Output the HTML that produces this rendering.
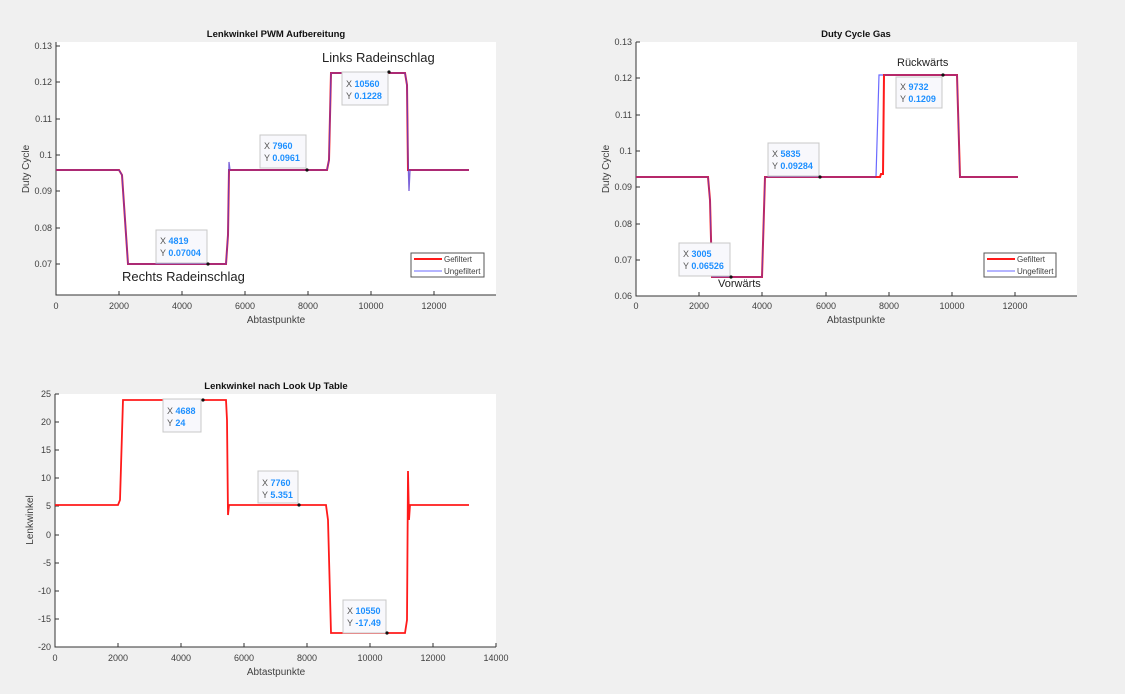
<!DOCTYPE html>
<html><head><meta charset="utf-8"><style>
html,body{margin:0;padding:0;background:#f0f0f0;}
svg{display:block;font-family:"Liberation Sans",sans-serif;}
.t{font-size:9px;fill:#404040;}
.ti{font-size:9.5px;font-weight:bold;fill:#111;}
.lab{font-size:10px;fill:#404040;}
.ann{font-size:13px;fill:#222;}
.tipb{fill:#f8f8fc;stroke:#c8c8c8;stroke-width:1;}
.tx{font-size:9px;fill:#555;}
.tv{font-size:9px;fill:#1e90ff;font-weight:bold;}
</style></head><body>
<svg width="1125" height="694" viewBox="0 0 1125 694">
<!-- plot areas -->
<rect x="56" y="42" width="440" height="253" fill="#fff"/>
<rect x="636" y="42" width="441" height="254" fill="#fff"/>
<rect x="55" y="394" width="441" height="253" fill="#fff"/>

<!-- Plot 1 -->
<text class="ti" x="276" y="37" text-anchor="middle">Lenkwinkel PWM Aufbereitung</text>
<g stroke="#333" stroke-width="1" fill="none">
<path d="M56,42V295H496"/>
<path d="M56,46h4M56,82h4M56,119h4M56,155h4M56,191h4M56,228h4M56,264h4"/>
<path d="M119,295v-4M182,295v-4M245,295v-4M308,295v-4M371,295v-4M434,295v-4"/>
</g>
<g class="t" text-anchor="end">
<text x="52" y="49">0.13</text><text x="52" y="85">0.12</text><text x="52" y="122">0.11</text><text x="52" y="158">0.1</text><text x="52" y="194">0.09</text><text x="52" y="231">0.08</text><text x="52" y="267">0.07</text>
</g>
<g class="t" text-anchor="middle">
<text x="56" y="309">0</text><text x="119" y="309">2000</text><text x="182" y="309">4000</text><text x="245" y="309">6000</text><text x="308" y="309">8000</text><text x="371" y="309">10000</text><text x="434" y="309">12000</text>
</g>
<text class="lab" x="276" y="323" text-anchor="middle">Abtastpunkte</text>
<text class="lab" transform="translate(29,169) rotate(-90)" text-anchor="middle">Duty Cycle</text>
<path d="M56,170 L119,170 L122,175 L128,264 L226,264 L228,235 L229,170 L327,170 L329,160 L331,73 L405,73 L407,85 L408,170 L469,170" fill="none" stroke="#ff1a1a" stroke-width="2"/>
<path d="M56,170 L119,170 L122,175 L128,264 L226,264 L228,235 L229,162 L230,170 L327,170 L329,160 L331,73 L405,73 L407,85 L408,157 L409,191 L410,170 L469,170" fill="none" stroke="#5a3cd0" stroke-width="1.3" opacity="0.8"/>
<text class="ann" x="322" y="62">Links Radeinschlag</text>
<text class="ann" x="122" y="281">Rechts Radeinschlag</text>
<rect class="tipb" x="156" y="230" width="51" height="33"/>
<text class="tx" x="160" y="244">X <tspan class="tv">4819</tspan></text>
<text class="tx" x="160" y="256">Y <tspan class="tv">0.07004</tspan></text>
<rect class="tipb" x="260" y="135" width="46" height="33"/>
<text class="tx" x="264" y="149">X <tspan class="tv">7960</tspan></text>
<text class="tx" x="264" y="161">Y <tspan class="tv">0.0961</tspan></text>
<rect class="tipb" x="342" y="72" width="46" height="33"/>
<text class="tx" x="346" y="87">X <tspan class="tv">10560</tspan></text>
<text class="tx" x="346" y="99">Y <tspan class="tv">0.1228</tspan></text>
<g fill="#111"><circle cx="208" cy="264" r="1.6"/><circle cx="307" cy="170" r="1.6"/><circle cx="389" cy="72" r="1.6"/></g>
<rect x="411" y="253" width="73" height="24" fill="#fff" stroke="#555"/>
<line x1="414" y1="259" x2="442" y2="259" stroke="#ff1a1a" stroke-width="2"/>
<line x1="414" y1="271" x2="442" y2="271" stroke="#6a6aff" stroke-width="1"/>
<text class="t" x="444" y="262" style="font-size:8px">Gefiltert</text>
<text class="t" x="444" y="274" style="font-size:8px">Ungefiltert</text>

<!-- Plot 2 -->
<text class="ti" x="856" y="37" text-anchor="middle">Duty Cycle Gas</text>
<g stroke="#333" stroke-width="1" fill="none">
<path d="M636,42V296H1077"/>
<path d="M636,42h4M636,78h4M636,115h4M636,151h4M636,187h4M636,224h4M636,260h4"/>
<path d="M699,296v-4M762,296v-4M826,296v-4M889,296v-4M952,296v-4M1015,296v-4"/>
</g>
<g class="t" text-anchor="end">
<text x="632" y="45">0.13</text><text x="632" y="81">0.12</text><text x="632" y="118">0.11</text><text x="632" y="154">0.1</text><text x="632" y="190">0.09</text><text x="632" y="227">0.08</text><text x="632" y="263">0.07</text><text x="632" y="299">0.06</text>
</g>
<g class="t" text-anchor="middle">
<text x="636" y="309">0</text><text x="699" y="309">2000</text><text x="762" y="309">4000</text><text x="826" y="309">6000</text><text x="889" y="309">8000</text><text x="952" y="309">10000</text><text x="1015" y="309">12000</text>
</g>
<text class="lab" x="856" y="323" text-anchor="middle">Abtastpunkte</text>
<text class="lab" transform="translate(609,169) rotate(-90)" text-anchor="middle">Duty Cycle</text>
<path d="M636,177 L708,177 L710,200 L712,277 L762,277 L765,177 L876,177 L879,75 L957,75 L960,177 L1018,177" fill="none" stroke="#6a6aff" stroke-width="1.2"/>
<path d="M636,177 L708,177 L710,200 L712,277 L762,277 L765,177 L880,177 L881,174 L883,174 L884,75 L957,75 L960,177 L1018,177" fill="none" stroke="#ff1a1a" stroke-width="2"/>
<path d="M636,177 L708,177 L710,200 L712,277 L762,277 L765,177 L876,177 M884,75 L957,75 L960,177 L1018,177" fill="none" stroke="#5a3cd0" stroke-width="1.2" opacity="0.7"/>
<text class="ann" x="897" y="66" style="font-size:11px">Rückwärts</text>
<text class="ann" x="718" y="287" style="font-size:11px">Vorwärts</text>
<rect class="tipb" x="679" y="243" width="51" height="33"/>
<text class="tx" x="683" y="257">X <tspan class="tv">3005</tspan></text>
<text class="tx" x="683" y="269">Y <tspan class="tv">0.06526</tspan></text>
<rect class="tipb" x="768" y="143" width="51" height="33"/>
<text class="tx" x="772" y="157">X <tspan class="tv">5835</tspan></text>
<text class="tx" x="772" y="169">Y <tspan class="tv">0.09284</tspan></text>
<rect class="tipb" x="896" y="77" width="46" height="31"/>
<text class="tx" x="900" y="90">X <tspan class="tv">9732</tspan></text>
<text class="tx" x="900" y="102">Y <tspan class="tv">0.1209</tspan></text>
<g fill="#111"><circle cx="731" cy="277" r="1.6"/><circle cx="820" cy="177" r="1.6"/><circle cx="943" cy="75" r="1.6"/></g>
<rect x="984" y="253" width="72" height="24" fill="#fff" stroke="#555"/>
<line x1="987" y1="259" x2="1015" y2="259" stroke="#ff1a1a" stroke-width="2"/>
<line x1="987" y1="271" x2="1015" y2="271" stroke="#6a6aff" stroke-width="1"/>
<text class="t" x="1017" y="262" style="font-size:8px">Gefiltert</text>
<text class="t" x="1017" y="274" style="font-size:8px">Ungefiltert</text>

<!-- Plot 3 -->
<text class="ti" x="276" y="389" text-anchor="middle">Lenkwinkel nach Look Up Table</text>
<g stroke="#333" stroke-width="1" fill="none">
<path d="M55,394V647H496"/>
<path d="M55,394h4M55,422h4M55,450h4M55,478h4M55,506h4M55,535h4M55,563h4M55,591h4M55,619h4M55,647h4"/>
<path d="M118,647v-4M181,647v-4M244,647v-4M307,647v-4M370,647v-4M433,647v-4M496,647v-4"/>
</g>
<g class="t" text-anchor="end">
<text x="51" y="397">25</text><text x="51" y="425">20</text><text x="51" y="453">15</text><text x="51" y="481">10</text><text x="51" y="509">5</text><text x="51" y="538">0</text><text x="51" y="566">-5</text><text x="51" y="594">-10</text><text x="51" y="622">-15</text><text x="51" y="650">-20</text>
</g>
<g class="t" text-anchor="middle">
<text x="55" y="661">0</text><text x="118" y="661">2000</text><text x="181" y="661">4000</text><text x="244" y="661">6000</text><text x="307" y="661">8000</text><text x="370" y="661">10000</text><text x="433" y="661">12000</text><text x="496" y="661">14000</text>
</g>
<text class="lab" x="276" y="675" text-anchor="middle">Abtastpunkte</text>
<text class="lab" transform="translate(33,520) rotate(-90)" text-anchor="middle">Lenkwinkel</text>
<path d="M55,505 L118,505 L120,500 L123,400 L226,400 L227,420 L228,515 L229,505 L326,505 L328,520 L331,633 L405,633 L407,620 L408,471 L409,520 L410,505 L469,505" fill="none" stroke="#ff1a1a" stroke-width="1.8"/>
<rect class="tipb" x="163" y="399" width="38" height="33"/>
<text class="tx" x="167" y="414">X <tspan class="tv">4688</tspan></text>
<text class="tx" x="167" y="426">Y <tspan class="tv">24</tspan></text>
<rect class="tipb" x="258" y="471" width="40" height="32"/>
<text class="tx" x="262" y="486">X <tspan class="tv">7760</tspan></text>
<text class="tx" x="262" y="498">Y <tspan class="tv">5.351</tspan></text>
<rect class="tipb" x="343" y="600" width="43" height="33"/>
<text class="tx" x="347" y="614">X <tspan class="tv">10550</tspan></text>
<text class="tx" x="347" y="626">Y <tspan class="tv">-17.49</tspan></text>
<g fill="#111"><circle cx="203" cy="400" r="1.6"/><circle cx="299" cy="505" r="1.6"/><circle cx="387" cy="633" r="1.6"/></g>
</svg>
</body></html>
